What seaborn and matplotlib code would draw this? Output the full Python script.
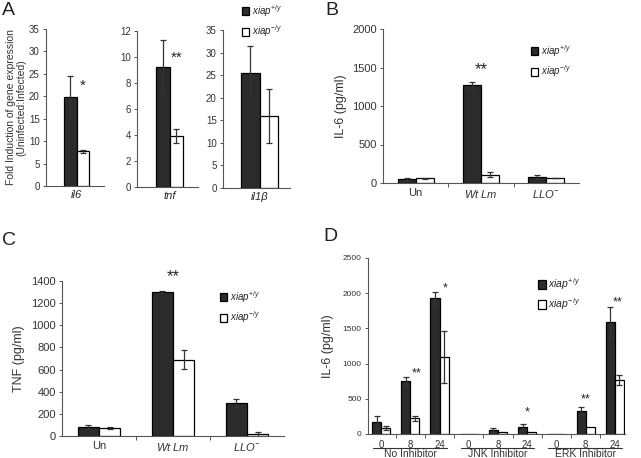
import numpy as np
import pandas as pd
import matplotlib
matplotlib.use("Agg")
from matplotlib import pyplot as plt
import seaborn as sns

# ---- data ----
genotypes = [r'$xiap^{+/y}$', r'$xiap^{-/y}$']

# panel A: fold induction, one axes per gene
genes_a = ['il6', 'tnf', 'il1β']
wt_a = [19.8, 9.2, 25.5]
wt_a_err = [4.7, 2.1, 6.0]
ko_a = [7.7, 3.95, 16.0]
ko_a_err = [0.4, 0.55, 6.0]
ylims_a = [35, 12, 35]

# panel B: IL-6 (pg/ml)
groups_bc = ['Un', r'$Wt\ Lm$', r'$LLO^{-}$']
wt_b = [50, 1275, 80]
wt_b_err = [10, 40, 25]
ko_b = [60, 110, 65]
ko_b_err = [5, 30, 5]

# panel C: TNF (pg/ml)
wt_c = [80, 1300, 300]
wt_c_err = [20, 8, 35]
ko_c = [70, 690, 15]
ko_c_err = [10, 85, 20]

# panel D: IL-6 (pg/ml) with inhibitors
times_d = ['0', '8', '24']
inhibitors_d = ['No Inhibitor', 'JNK Inhibitor', 'ERK Inhibitor']
wt_d = [170, 750, 1930, 5, 55, 100, 5, 325, 1590]
wt_d_err = [85, 60, 85, 0, 30, 40, 0, 60, 210]
ko_d = [85, 225, 1095, 5, 25, 25, 5, 100, 765]
ko_d_err = [25, 35, 375, 0, 0, 0, 0, 0, 75]

sns.set_style('ticks')
plt.rcParams['font.family'] = ['Liberation Sans', 'DejaVu Sans']
plt.rcParams['mathtext.fontset'] = 'custom'
plt.rcParams['mathtext.it'] = 'Liberation Sans:italic'
plt.rcParams['mathtext.rm'] = 'Liberation Sans'
plt.rcParams['mathtext.default'] = 'it'

W, H = 641, 458
fig = plt.figure(figsize=(W / 100, H / 100), dpi=100)
pal = ['#2b2b2b', 'white']


def px(l, t, r, b):
    return [l / W, 1 - b / H, (r - l) / W, (b - t) / H]


def make_df(cats, wt, ko):
    return pd.DataFrame({
        'cat': list(cats) * 2,
        'geno': [genotypes[0]] * len(cats) + [genotypes[1]] * len(cats),
        'val': list(wt) + list(ko),
    })


def bars(ax, cats, wt, ko, wt_err, ko_err, width, legend=False):
    df = make_df(cats, wt, ko)
    sns.barplot(data=df, x='cat', y='val', hue='geno', order=list(cats),
                hue_order=genotypes, palette=pal, edgecolor='black',
                linewidth=0.9, width=width, errorbar=None, legend=legend, ax=ax)
    conts = list(ax.containers)[:2]
    for cont, errs in zip(conts, [wt_err, ko_err]):
        for bar, e in zip(cont, errs):
            if e > 0:
                ax.errorbar(bar.get_x() + bar.get_width() / 2, bar.get_height(),
                            yerr=e, color='#333333', capsize=2.5, lw=0.9,
                            capthick=0.9)
    for s in ['top', 'right']:
        ax.spines[s].set_visible(False)
    for s in ['left', 'bottom']:
        ax.spines[s].set_color('#555555')
        ax.spines[s].set_linewidth(0.8)
    ax.set_xlabel('')
    ax.set_ylabel('')
    ax.tick_params(axis='y', length=2.5, width=0.7, color='#555555', pad=2)


def place_legend(ax, x, y, fs=7):
    sns.move_legend(ax, 'upper left', bbox_to_anchor=(x / W, 1 - y / H),
                    bbox_transform=fig.transFigure, frameon=False, title=None,
                    fontsize=fs, handlelength=0.75, handleheight=0.9,
                    handletextpad=0.25, labelspacing=0.45, borderpad=0,
                    borderaxespad=0)


def boundary_ticks(ax, n):
    ax.set_xticks(np.arange(n - 1) + 0.5, minor=True)
    ax.tick_params(axis='x', which='major', length=0)
    ax.tick_params(axis='x', which='minor', length=3, width=0.7,
                   color='#555555', direction='out')


# ---- panel A ----
pos_a = [(46, 29, 104, 186), (137, 31, 198, 187), (223, 30, 290, 188)]
xl_a = [(-0.98, 0.88), (-0.96, 0.84), (-0.79, 0.66)]
for i in range(3):
    ax = fig.add_axes(px(*pos_a[i]))
    bars(ax, [genes_a[i]], [wt_a[i]], [ko_a[i]], [wt_a_err[i]], [ko_a_err[i]],
         0.8, legend=(i == 2))
    ax.set_ylim(0, ylims_a[i])
    ax.set_xlim(*xl_a[i])
    ax.tick_params(axis='x', length=0, pad=3)
    ax.set_xticks([0])
    ax.set_xticklabels([genes_a[i]], fontstyle='italic', fontsize=8)
    ax.tick_params(axis='y', labelsize=7, labelcolor='#333333')
    if i == 2:
        place_legend(ax, 242, 3)
    if i == 0:
        ax.set_ylabel('Fold Induction of gene expression\n(Uninfected:Infected)',
                      fontsize=7.5, color='#333333', labelpad=2,
                      linespacing=1.05)
        ax.text(0.2, 21.5, '*', ha='center', fontsize=11)
    if i == 1:
        ax.text(0.2, 9.6, '**', ha='center', fontsize=11)

# ---- panel B ----
ax = fig.add_axes(px(383, 29, 579, 183))
bars(ax, groups_bc, wt_b, ko_b, wt_b_err, ko_b_err, 0.55, legend=True)
ax.set_ylim(0, 2000)
ax.set_xlim(-0.5, 2.5)
ax.set_yticks([0, 500, 1000, 1500, 2000])
boundary_ticks(ax, 3)
ax.tick_params(labelsize=8, labelcolor='#333333')
ax.set_ylabel('IL-6 (pg/ml)', fontsize=9, color='#333333', labelpad=4)
ax.text(1, 1420, '**', ha='center', fontsize=12)
place_legend(ax, 531, 43)

# ---- panel C ----
ax = fig.add_axes(px(62, 281, 284, 436))
bars(ax, groups_bc, wt_c, ko_c, wt_c_err, ko_c_err, 0.57, legend=True)
ax.set_ylim(0, 1400)
ax.set_xlim(-0.5, 2.5)
ax.set_yticks(np.arange(0, 1401, 200))
boundary_ticks(ax, 3)
ax.tick_params(labelsize=8, labelcolor='#333333')
ax.set_ylabel('TNF (pg/ml)', fontsize=9, color='#333333', labelpad=4)
ax.text(1, 1400, '**', ha='center', fontsize=12, clip_on=False)
place_legend(ax, 220, 289)

# ---- panel D ----
cats_d = [f'{t}|{g}' for g in inhibitors_d for t in times_d]
ax = fig.add_axes(px(368, 258, 625, 434))
bars(ax, cats_d, wt_d, ko_d, wt_d_err, ko_d_err, 0.62, legend=True)
ax.set_ylim(0, 2500)
ax.set_xlim(-0.45, 8.35)
ax.set_yticks(np.arange(0, 2501, 500))
ax.set_xticks(range(9))
ax.set_xticklabels(times_d * 3)
boundary_ticks(ax, 9)
ax.tick_params(axis='y', labelsize=6, labelcolor='#333333')
ax.tick_params(axis='x', labelsize=7, labelcolor='#333333', pad=4)
ax.set_ylabel('IL-6 (pg/ml)', fontsize=9, color='#333333', labelpad=6)
trans = ax.get_xaxis_transform()
for g, name in enumerate(inhibitors_d):
    ax.plot([3 * g - 0.27, 3 * g + 2.25], [-0.08, -0.08], color='#333333',
            lw=0.8, transform=trans, clip_on=False)
    ax.text(3 * g + 1, -0.085, name, ha='center', va='top', fontsize=7.5,
            color='#333333', transform=trans)
for x, y, s in [(1.2, 820, '**'), (2.2, 2030, '*'), (5.0, 270, '*'),
                (7.0, 450, '**'), (8.1, 1830, '**')]:
    ax.text(x, y, s, ha='center', fontsize=9)
place_legend(ax, 538, 276, fs=7.5)

# ---- panel letters ----
for x, y, s in [(2, 2, 'A'), (325, 2, 'B'), (2, 232, 'C'), (323, 228, 'D')]:
    fig.text(x / W, 1 - y / H, s, fontsize=14, va='top', color='#222222')

fig.savefig('out.png', dpi=100)
